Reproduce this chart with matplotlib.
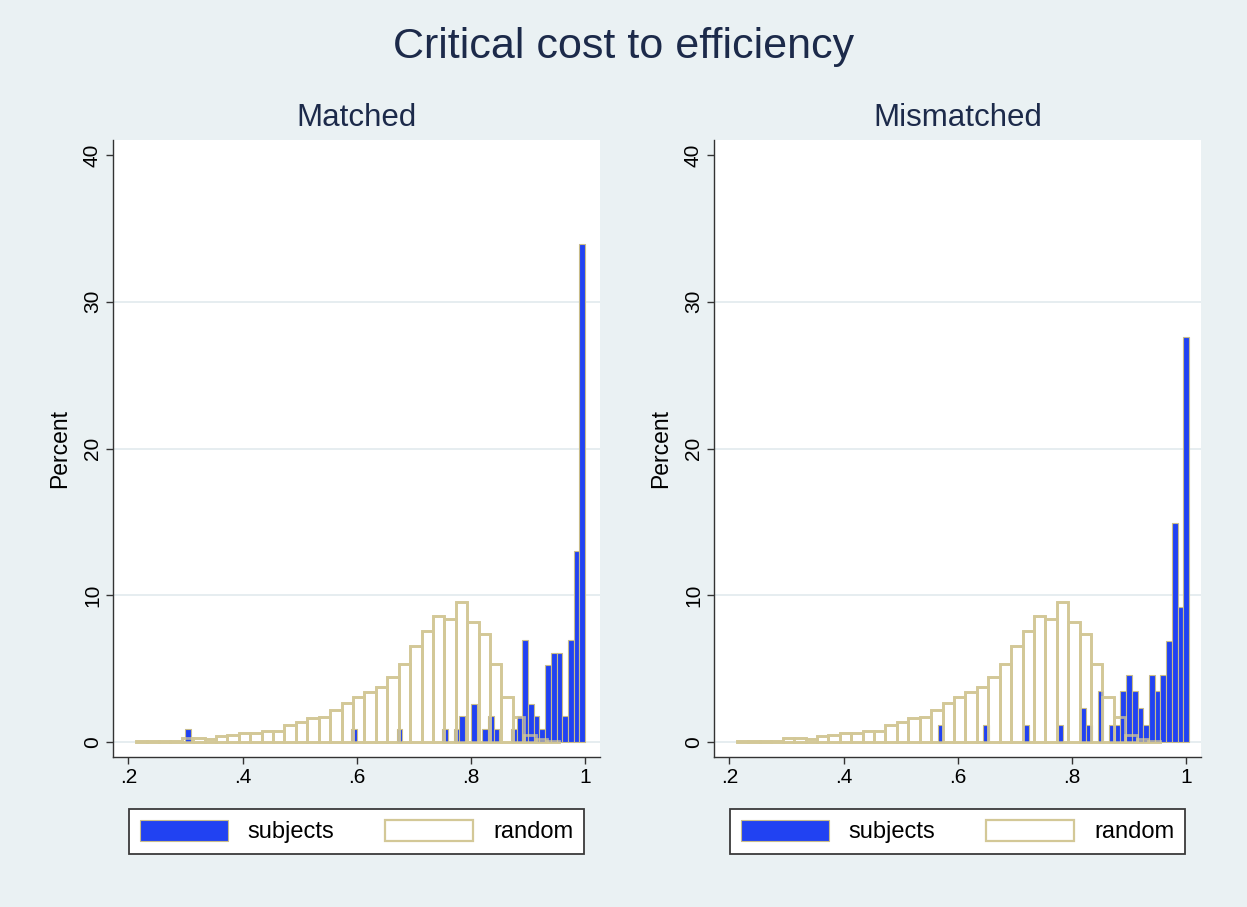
import matplotlib
matplotlib.use('Agg')
import matplotlib.pyplot as plt
from matplotlib.patches import Patch

plt.rcParams['font.family'] = ['Liberation Sans', 'DejaVu Sans']

# ---------------- data ----------------
random_start = 0.2135
random_width = 0.02
random_pct = [0.10, 0.10, 0.10, 0.10, 0.25, 0.25, 0.20, 0.40, 0.45, 0.60,
              0.60, 0.77, 0.77, 1.14, 1.39, 1.66, 1.73, 2.18, 2.64, 3.09,
              3.39, 3.73, 4.41, 5.32, 6.57, 7.59, 8.61, 8.38, 9.52, 8.16,
              7.36, 5.32, 3.05, 1.73, 0.45, 0.20, 0.10]

subj_width = 0.01
matched_x = [0.305, 0.595, 0.675, 0.755, 0.775, 0.785, 0.805, 0.825, 0.835,
             0.845, 0.875, 0.885, 0.895, 0.905, 0.915, 0.925, 0.935, 0.945,
             0.955, 0.965, 0.975, 0.985, 0.995]
matched_pct = [0.87, 0.87, 0.87, 0.87, 0.87, 1.74, 2.61, 0.87, 1.74,
               0.87, 0.87, 1.74, 6.96, 2.61, 1.74, 0.87, 5.22, 6.09,
               6.09, 1.74, 6.96, 13.04, 33.91]

mismatched_x = [0.57, 0.65, 0.72, 0.78, 0.82, 0.83, 0.85, 0.87, 0.88, 0.89,
                0.90, 0.91, 0.92, 0.93, 0.94, 0.95, 0.96, 0.97, 0.98, 0.99,
                1.00]
mismatched_pct = [1.15, 1.15, 1.15, 1.15, 2.30, 1.15, 3.45, 1.15, 1.15, 3.45,
                  4.60, 3.45, 2.30, 1.15, 4.60, 3.45, 4.60, 6.90, 14.94, 9.20,
                  27.59]

panel_titles = ["Matched", "Mismatched"]
xticks = [0.2, 0.4, 0.6, 0.8, 1.0]
xtick_labels = [".2", ".4", ".6", ".8", "1"]
yticks = [0, 10, 20, 30, 40]
legend_labels = ["subjects", "random"]

# ---------------- style ----------------
BG = '#eaf1f3'
GRID = '#e4ecef'
BLUE = '#2142f2'
SAND = '#d3c897'
SUBJ_EDGE = '#c8bc8a'
AXC = '#333333'
TITLEC = '#1c2a4a'

W, H = 1247, 907
fig = plt.figure(figsize=(W / 100, H / 100), dpi=100)
fig.patch.set_facecolor(BG)

ax_w = 487 / W
ax_h = 617 / H
bottom = 1 - 757 / H
lefts = [113 / W, 714 / W]

random_left = [random_start + i * random_width for i in range(len(random_pct))]

panels = [(matched_x, matched_pct), (mismatched_x, mismatched_pct)]

for k, (sx, sp) in enumerate(panels):
    ax = fig.add_axes([lefts[k], bottom, ax_w, ax_h])
    ax.set_facecolor('white')
    ax.set_xlim(0.1732, 1.0261)
    ax.set_ylim(-1.02, 41.02)

    for g in [0, 10, 20, 30]:
        ax.axhline(g, color=GRID, lw=1.3, zorder=0)

    # random: white fill underneath
    ax.bar(random_left, random_pct, width=random_width, align='edge',
           facecolor='white', edgecolor=SAND, linewidth=2.0, zorder=1)
    # subjects
    ax.bar(sx, sp, width=subj_width, align='center', facecolor=BLUE,
           edgecolor=SUBJ_EDGE, linewidth=0.8, zorder=2)
    # random outlines on top (semi-transparent)
    ax.bar(random_left, random_pct, width=random_width, align='edge',
           facecolor='none', edgecolor=SAND, linewidth=2.0, alpha=0.75,
           zorder=3)

    for side in ['top', 'right']:
        ax.spines[side].set_visible(False)
    for side in ['left', 'bottom']:
        ax.spines[side].set_color(AXC)
        ax.spines[side].set_linewidth(1.0)

    ax.set_xticks(xticks)
    ax.set_xticklabels(xtick_labels)
    ax.set_yticks(yticks)
    ax.set_yticklabels([str(v) for v in yticks], rotation=90, va='center')
    ax.tick_params(axis='both', colors=AXC, labelcolor='black',
                   length=5, width=1.0, labelsize=15, pad=3)

    ax.text(-0.109, 0.5, "Percent", transform=ax.transAxes, rotation=90,
            ha='center', va='center', fontsize=16.5, color='black')
    ax.text(0.5, 1.0357, panel_titles[k], transform=ax.transAxes,
            ha='center', va='center', fontsize=22.5, color=TITLEC)

    handles = [Patch(facecolor=BLUE, edgecolor=SUBJ_EDGE, linewidth=0.8),
               Patch(facecolor='white', edgecolor=SAND, linewidth=1.6)]
    leg = ax.legend(handles, legend_labels, loc='center',
                    bbox_to_anchor=(0.0329, -0.1207, 0.934, 0.0),
                    mode='expand', ncol=2, frameon=True, fancybox=False,
                    fontsize=17, handlelength=3.73, handleheight=1.0,
                    handletextpad=0.85, borderpad=0.45, borderaxespad=0)
    fr = leg.get_frame()
    fr.set_edgecolor('#3a3a3a')
    fr.set_linewidth(1.3)
    fr.set_facecolor('white')
    fr.set_alpha(1)

fig.text(624 / W, 1 - 47 / H, "Critical cost to efficiency", ha='center',
         va='center', fontsize=31, color=TITLEC)

fig.savefig('out.png', dpi=100, facecolor=fig.get_facecolor())
